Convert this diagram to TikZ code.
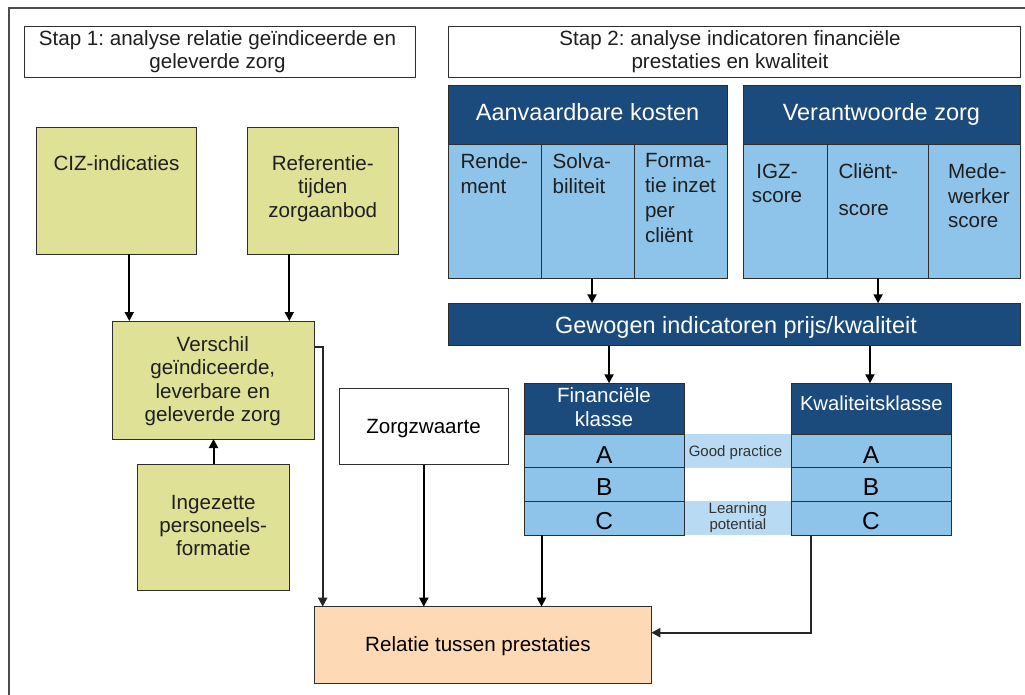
\documentclass[tikz,border=0pt]{standalone}
\usepackage{fontspec}
\setmainfont{Liberation Sans}
\usetikzlibrary{arrows.meta,calc}
\definecolor{cgreen}{RGB}{222,225,150}
\definecolor{cdark}{RGB}{27,74,124}
\definecolor{clight}{RGB}{142,196,234}
\definecolor{cband}{RGB}{184,218,242}
\definecolor{cpeach}{RGB}{253,218,181}
\definecolor{cedge}{RGB}{45,45,45}
\frenchspacing
\begin{document}
\begin{tikzpicture}[x=1pt,y=-1pt,
  box/.style={draw=cedge, line width=0.9pt, inner sep=0pt, outer sep=0pt},
  gbox/.style={box, fill=cgreen},
  hbox/.style={box, fill=cdark},
  cbox/.style={box, fill=clight},
  wbox/.style={box, fill=white},
  pbox/.style={box, fill=cpeach},
  band/.style={fill=cband, draw=none, inner sep=0pt, outer sep=0pt},
  txt/.style={inner sep=0pt, outer sep=0pt, text=black!88, font=\fontsize{20.6}{23.3}\selectfont},
  ltxt/.style={inner sep=0pt, outer sep=0pt, text=black, font=\fontsize{24.5}{26}\selectfont},
  htxt/.style={inner sep=0pt, outer sep=0pt, text=white, font=\fontsize{23.5}{26}\selectfont},
  ctxt/.style={inner sep=0pt, outer sep=0pt, text=white, font=\fontsize{20.6}{24}\selectfont},
  stxt/.style={inner sep=0pt, outer sep=0pt, text=black!80, font=\fontsize{15}{16}\selectfont},
  arr/.style={draw=black, line width=2pt, -{Triangle[length=9pt,width=9pt]}},
  garr/.style={draw=black!85, line width=2pt, -{Triangle[length=9pt,width=9pt]}},
]
\useasboundingbox (0,0) rectangle (1025,695);
% outer frame
\draw[line width=1.4pt, draw=black!70] (9,695) -- (9,8) -- (1025,8);

% step headers
\node[wbox, minimum width=391pt, minimum height=50.6pt] (s1) at (219.5,52) {};
\node[txt, anchor=north, align=center, font=\fontsize{20.6}{22.7}\selectfont] (s1t) at (217.5,30.7) {Stap 1: analyse relatie geïndiceerde en\\geleverde zorg};
\node[wbox, minimum width=572pt, minimum height=50.6pt] (s2) at (734,52) {};
\node[txt, anchor=north, align=center, font=\fontsize{20.6}{22.7}\selectfont] (s2t) at (730,30.7) {Stap 2: analyse indicatoren financiële\\prestaties en kwaliteit};

% Aanvaardbare kosten
\node[hbox, minimum width=279pt, minimum height=59pt] (ak) at (587.5,114.5) {};
\node[htxt, anchor=base] (akt) at (587.6,121) {Aanvaardbare kosten};
\node[cbox, minimum width=93.5pt, minimum height=134pt] (rend) at (494.75,211) {};
\node[cbox, minimum width=92.5pt, minimum height=134pt] (solv) at (587.75,211) {};
\node[cbox, minimum width=93pt, minimum height=134pt] (form) at (680.5,211) {};
\node[txt, anchor=north west, align=left, font=\fontsize{20.6}{25}\selectfont] (rendt) at (460.5,153.3) {Rende-\\ment};
\node[txt, anchor=north west, align=left, font=\fontsize{20.6}{25}\selectfont] (solvt) at (552.7,153.3) {Solva-\\biliteit};
\node[txt, anchor=north west, align=left, font=\fontsize{20.6}{25}\selectfont] (formt) at (645,153.3) {Forma-\\tie inzet\\per\\cliënt};

% Verantwoorde zorg
\node[hbox, minimum width=277pt, minimum height=59pt] (vz) at (881.5,114.5) {};
\node[htxt, anchor=base] (vzt) at (881.4,121) {Verantwoorde zorg};
\node[cbox, minimum width=84.7pt, minimum height=134pt] (igz) at (785.35,211) {};
\node[cbox, minimum width=100.7pt, minimum height=134pt] (cli) at (878.05,211) {};
\node[cbox, minimum width=91.6pt, minimum height=134pt] (med) at (974.2,211) {};
\node[txt, anchor=north, align=center, font=\fontsize{20.6}{24.4}\selectfont] (igzt) at (777,164) {IGZ-\\score};
\node[txt, anchor=north west, align=left, font=\fontsize{20.6}{24.4}\selectfont] (clit) at (838.5,164) {Cliënt-\\[12.6pt]score};
\node[txt, anchor=north west, align=left, font=\fontsize{20.6}{24.4}\selectfont] (medt) at (948,164) {Mede-\\werker\\score};

% Gewogen indicatoren
\node[hbox, minimum width=572pt, minimum height=42.4pt] (gew) at (734,324.5) {};
\node[htxt, anchor=base] (gewt) at (736,333.3) {Gewogen indicatoren prijs/kwaliteit};

% bands
\node[band, minimum width=107.1pt, minimum height=33.7pt] (gp) at (737.95,450.85) {};
\node[band, minimum width=107.1pt, minimum height=34pt] (lp) at (737.95,518) {};
\node[stxt, anchor=base] (gpt) at (735.5,456.7) {Good practice};
\node[stxt, anchor=north, align=center] (lpt) at (737.9,502.4) {Learning\\potential};

% Financiele klasse
\node[hbox, minimum width=159.7pt, minimum height=50.7pt] (fin) at (604.55,408.65) {};
\node[ctxt, anchor=north, align=center] (fint) at (604,388) {Financiële\\klasse};
\node[cbox, minimum width=159.7pt, minimum height=33.7pt] (finA) at (604.55,450.85) {};
\node[cbox, minimum width=159.7pt, minimum height=33.3pt] (finB) at (604.55,484.35) {};
\node[cbox, minimum width=159.7pt, minimum height=34pt] (finC) at (604.55,518) {};
\node[ltxt, anchor=base] (finAt) at (604.3,463.3) {A};
\node[ltxt, anchor=base] (finBt) at (604.3,495.7) {B};
\node[ltxt, anchor=base] (finCt) at (604.3,529) {C};

% Kwaliteitsklasse
\node[hbox, minimum width=159.7pt, minimum height=50.7pt] (kw) at (871.35,408.65) {};
\node[ctxt, anchor=base, font=\fontsize{20.2}{24}\selectfont] (kwt) at (871.3,410.7) {Kwaliteitsklasse};
\node[cbox, minimum width=159.7pt, minimum height=33.7pt] (kwA) at (871.35,450.85) {};
\node[cbox, minimum width=159.7pt, minimum height=33.3pt] (kwB) at (871.35,484.35) {};
\node[cbox, minimum width=159.7pt, minimum height=34pt] (kwC) at (871.35,518) {};
\node[ltxt, anchor=base] (kwAt) at (871,463.3) {A};
\node[ltxt, anchor=base] (kwBt) at (871,495.7) {B};
\node[ltxt, anchor=base] (kwCt) at (871,529) {C};

% left column
\node[gbox, minimum width=160pt, minimum height=126.3pt] (ciz) at (116.7,190.85) {};
\node[txt, anchor=base] (cizt) at (116.5,170.7) {CIZ-indicaties};
\node[gbox, minimum width=151.3pt, minimum height=126.3pt] (ref) at (322.7,190.85) {};
\node[txt, anchor=north, align=center] (reft) at (322.8,155.7) {Referentie-\\tijden\\zorgaanbod};
\node[gbox, minimum width=201.6pt, minimum height=118pt] (ver) at (213.5,380) {};
\node[txt, anchor=north, align=center] (vert) at (212.8,336.7) {Verschil\\geïndiceerde,\\leverbare en\\geleverde zorg};
\node[gbox, minimum width=151.6pt, minimum height=126.4pt] (ing) at (213.5,527.5) {};
\node[txt, anchor=north, align=center] (ingt) at (213.3,495) {Ingezette\\personeels-\\formatie};
\node[wbox, minimum width=169pt, minimum height=76.4pt] (zz) at (423.8,426.5) {};
\node[txt, anchor=base, text=black] (zzt) at (423.5,433.3) {Zorgzwaarte};
\node[pbox, minimum width=337pt, minimum height=76.6pt] (rel) at (482.8,645) {};
\node[txt, anchor=base, text=black] (relt) at (478,651.7) {Relatie tussen prestaties};

% connectors
\draw[arr] ([xshift=12.6pt]ciz.south) -- ([xshift=12.6pt]ciz.south |- ver.north);
\draw[arr] ([xshift=-33.4pt]ref.south) -- ([xshift=-33.4pt]ref.south |- ver.north);
\draw[arr] (ing.north) -- (ver.south);
\coordinate (vr) at (322.7,346.7);
\draw[garr] ([yshift=33.3pt]ver.east) -- (vr) -- (vr |- rel.north);
\draw[arr] (zz.south) -- (zz.south |- rel.north);
\draw[arr] ([xshift=4.25pt]solv.south) -- ([xshift=4.25pt]solv.south |- gew.north);
\draw[arr] (cli.south) -- (cli.south |- gew.north);
\draw[arr] ([xshift=4.5pt]gew.south -| fin.north) -- ([xshift=4.5pt]fin.north);
\draw[arr] ([xshift=-1.4pt]gew.south -| kw.north) -- ([xshift=-1.4pt]kw.north);
\draw[arr] ([xshift=16.8pt]finC.south west) -- ([xshift=16.8pt]finC.south west |- rel.north);
\draw[garr] ([xshift=19.8pt]kwC.south west) |- ([yshift=12.3pt]rel.east);
\end{tikzpicture}
\end{document}
